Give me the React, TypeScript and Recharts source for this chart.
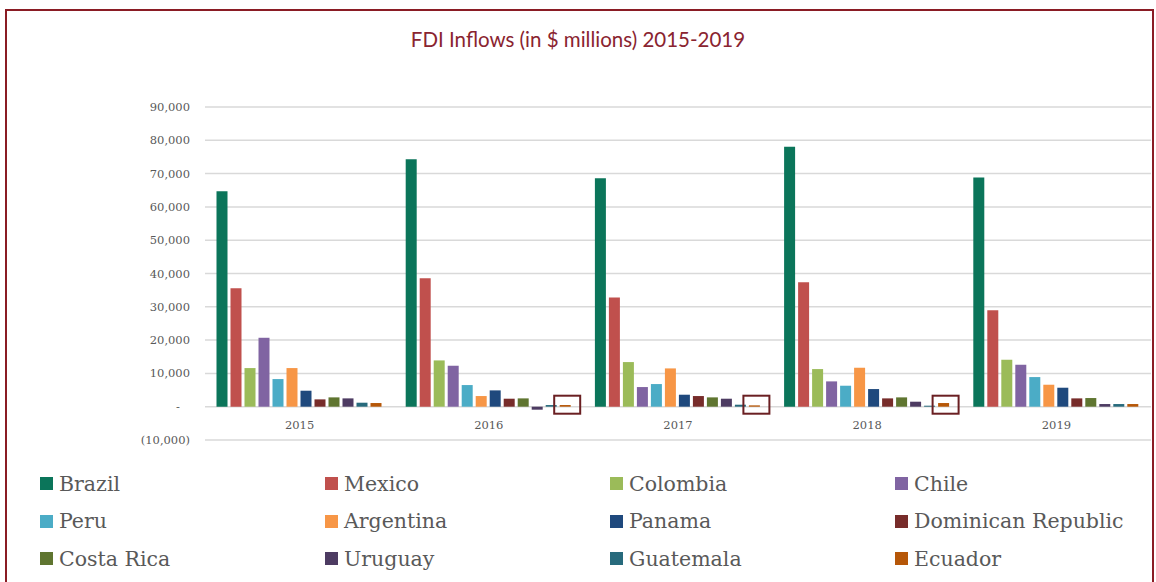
import React from "react";
import { BarChart, Bar, XAxis, YAxis, CartesianGrid, Legend } from "recharts";

const years = ["2015", "2016", "2017", "2018", "2019"];
const countries = [
	"Brazil",
	"Mexico",
	"Colombia",
	"Chile",
	"Peru",
	"Argentina",
	"Panama",
	"Dominican Republic",
	"Costa Rica",
	"Uruguay",
	"Guatemala",
	"Ecuador",
];
const colors = [
	"#0b755a",
	"#c0504d",
	"#9bbb59",
	"#8064a2",
	"#4bacc6",
	"#f79646",
	"#1f497d",
	"#772c2a",
	"#5f7530",
	"#4d3b62",
	"#276a7c",
	"#b65708",
];

// values in $ millions, by year
const brazil = [64700, 74300, 68600, 78100, 68800];
const mexico = [35600, 38600, 32800, 37400, 29000];
const colombia = [11600, 13900, 13400, 11300, 14100];
const chile = [20700, 12300, 5900, 7600, 12600];
const peru = [8300, 6500, 6800, 6300, 8900];
const argentina = [11600, 3200, 11500, 11700, 6600];
const panama = [4800, 4900, 3600, 5300, 5700];
const dominicanRepublic = [2200, 2400, 3200, 2500, 2500];
const costaRica = [2800, 2500, 2800, 2800, 2600];
const uruguay = [2500, -900, 2400, 1500, 800];
const guatemala = [1200, 500, 600, 300, 800];
const ecuador = [1100, 500, 400, 1100, 800];

const series = [
	brazil,
	mexico,
	colombia,
	chile,
	peru,
	argentina,
	panama,
	dominicanRepublic,
	costaRica,
	uruguay,
	guatemala,
	ecuador,
];

const yTicks = [-10000, 0, 10000, 20000, 30000, 40000, 50000, 60000, 70000, 80000, 90000];
const boxedYears = ["2016", "2017", "2018"];

const data = years.map((year, i) => {
	const row: Record<string, string | number> = { year };
	countries.forEach((c, j) => {
		row[c] = series[j][i];
	});
	return row;
});

const slab = "'DejaVu Serif', serif";

const YTick = (props: any) => {
	const { x, y, payload } = props;
	const v = payload.value as number;
	let label = v.toLocaleString("en-US");
	if (v < 0) label = `(${Math.abs(v).toLocaleString("en-US")})`;
	if (v === 0) label = "-";
	return (
		<text
			x={v === 0 ? x - 10 : x}
			y={y}
			dy="0.35em"
			textAnchor="end"
			fill="#595959"
			fontSize={11.5}
			fontFamily={slab}
		>
			{label}
		</text>
	);
};

const XTick = (props: any) => {
	const { x, y, payload } = props;
	return (
		<text x={x} y={y - 11} textAnchor="middle" fill="#595959" fontSize={11.5} fontFamily={slab}>
			{payload.value}
		</text>
	);
};

const EcuadorShape = (props: any) => {
	const { x, y, width, height, fill, payload } = props;
	const h = Math.abs(height);
	const top = height < 0 ? y + height : y;
	const base = height < 0 ? y : y + height;
	const cx = x + width / 2 + 2;
	return (
		<g>
			<rect x={x} y={top} width={width} height={h} fill={fill} />
			{boxedYears.includes(payload.year) && (
				<rect x={cx - 13} y={base - 11} width={26} height={18} fill="none" stroke="#6a1f22" strokeWidth={2} />
			)}
		</g>
	);
};

const LegendGrid = (props: any) => {
	const items = [...(props.payload || [])].sort(
		(a: any, b: any) => countries.indexOf(a.value) - countries.indexOf(b.value),
	);
	return (
		<div
			style={{
				display: "grid",
				gridTemplateColumns: "285px 285px 285px 285px",
				rowGap: 0,
				paddingLeft: 40,
			}}
		>
			{items.map((entry: any) => (
				<div
					key={entry.value}
					style={{ display: "flex", alignItems: "center", height: 37.5, whiteSpace: "nowrap" }}
				>
					<span style={{ width: 13, height: 13, background: entry.color, marginRight: 6, display: "inline-block" }} />
					<span style={{ fontFamily: slab, fontSize: 20.5, color: "#595959" }}>{entry.value}</span>
				</div>
			))}
		</div>
	);
};

export default function App() {
	return (
		<div style={{ position: "relative", width: 1156, height: 582, background: "#fff", overflow: "hidden" }}>
			<style>{"body{margin:0;overflow:hidden}"}</style>
			<div
				style={{
					position: "absolute",
					left: 5,
					top: 9,
					width: 1145,
					height: 600,
					borderTop: "2px solid #8a1c24",
					borderLeft: "2px solid #8a1c24",
					borderRight: "2px solid #8a1c24",
				}}
			/>
			<div
				style={{
					position: "absolute",
					left: 0,
					top: 27,
					width: 1156,
					textAlign: "center",
					fontFamily: "Lato, 'Open Sans', sans-serif",
					fontSize: 20.5,
					color: "#8a2430",
				}}
			>
				FDI Inflows (in $ millions) 2015-2019
			</div>
			<BarChart
				width={1156}
				height={582}
				data={data}
				margin={{ top: 107, right: 5, bottom: 112, left: 0 }}
				barCategoryGap={11.5}
				barGap={3}
			>
				<CartesianGrid vertical={false} stroke="#d9d9d9" strokeWidth={1.5} />
				<XAxis
					dataKey="year"
					axisLine={false}
					tickLine={false}
					tickSize={0}
					tickMargin={0}
					height={30}
					tick={<XTick />}
				/>
				<YAxis
					width={205}
					domain={[-10000, 90000]}
					ticks={yTicks}
					interval={0}
					axisLine={false}
					tickLine={false}
					tickSize={0}
					tickMargin={15}
					tick={<YTick />}
				/>
				<Legend
					layout="horizontal"
					verticalAlign="middle"
					align="center"
					wrapperStyle={{ top: 465, left: 0, width: 1156 }}
					content={<LegendGrid />}
				/>
				{countries.map((c, j) =>
					c === "Ecuador" ? (
						<Bar key={c} dataKey={c} fill={colors[j]} isAnimationActive={false} shape={<EcuadorShape />} />
					) : (
						<Bar key={c} dataKey={c} fill={colors[j]} isAnimationActive={false} />
					),
				)}
			</BarChart>
		</div>
	);
}
